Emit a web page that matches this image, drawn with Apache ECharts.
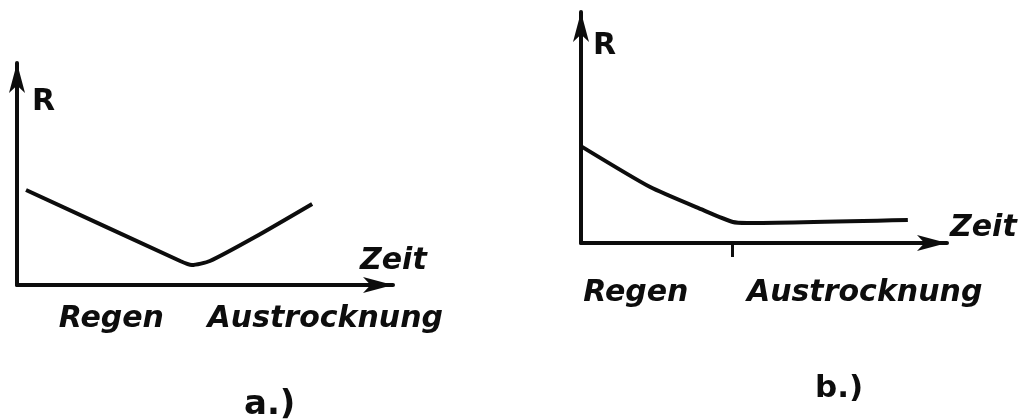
<!DOCTYPE html>
<html>
<head>
<meta charset="utf-8">
<script src="https://cdn.jsdelivr.net/npm/echarts@6/dist/echarts.min.js"></script>
<style>
    html, body { margin: 0; padding: 0; background: #fff; }
    #main { width: 1027px; height: 419px; }
</style>
</head>
<body>
<div id="main"></div>
<script>
// Kurve a: Widerstand R über Zeit (Regen -> Austrocknung)
var curveA = [[2.4, 42.8], [43.4, 10.8], [46.5, 9.0], [51.3, 10.8], [63.3, 21.6], [78.5, 36.5]];
// Kurve b
var curveB = [[0.3, 41.6], [18.9, 24.2], [33.3, 14.3], [41.5, 9.1], [45.4, 8.7], [89.3, 10.0]];
// Beschriftung unter der Zeitachse
var phaseNames = ['Regen', 'Austrocknung'];
var phasePosA = [25.1, 82.0];
var phasePosB = [15.0, 77.5];
var tickB = [41.3];
var panelNames = ['a.)', 'b.)'];

var FONT = 'DejaVu Sans';
var INK = '#0d0d0d';
var textStyle = { color: INK, fontFamily: FONT, fontStyle: 'italic', fontWeight: 'bold', fontSize: 30 };

function xAxis(grid, pos, ticks, margin, gap, padBottom) {
    return {
        type: 'value', gridIndex: grid, min: 0, max: 100,
        name: 'Zeit', nameLocation: 'end', nameGap: gap,
        nameTextStyle: Object.assign({}, textStyle, { verticalAlign: 'bottom', align: 'left', padding: [0, 0, padBottom, 0] }),
        axisLine: { show: true, symbol: ['none', 'arrow'], symbolSize: [12, 30], lineStyle: { color: INK, width: 4 } },
        axisTick: ticks.length ? { show: true, inside: false, length: 14, customValues: ticks, lineStyle: { color: INK, width: 3 } } : { show: false },
        axisLabel: Object.assign({}, textStyle, {
            show: true, customValues: pos, margin: margin,
            formatter: function (v) { return phaseNames[pos.indexOf(v)] || ''; }
        }),
        splitLine: { show: false }
    };
}
function yAxis(grid, gap, pad) {
    return {
        type: 'value', gridIndex: grid, min: 0, max: 100,
        name: 'R', nameLocation: 'end', nameGap: gap,
        nameTextStyle: Object.assign({}, textStyle, { verticalAlign: 'top', align: 'left', padding: [0, 0, 0, pad], fontStyle: 'normal' }),
        axisLine: { show: true, symbol: ['none', 'arrow'], symbolSize: [12, 30], lineStyle: { color: INK, width: 4 } },
        axisTick: { show: false },
        axisLabel: { show: false },
        splitLine: { show: false }
    };
}

var chart = echarts.init(document.getElementById('main'));
chart.setOption({
    backgroundColor: '#fff',
    animation: false,
    title: [
        { text: panelNames[0], left: 239, top: 383, textStyle: { color: INK, fontFamily: FONT, fontSize: 34, fontWeight: 'bold' } },
        { text: panelNames[1], left: 810, top: 368, textStyle: { color: INK, fontFamily: FONT, fontSize: 31, fontWeight: 'bold' } }
    ],
    grid: [
        { left: 17, top: 63, width: 376, height: 222 },
        { left: 581, top: 12, width: 366, height: 231 }
    ],
    xAxis: [xAxis(0, phasePosA, [], 19, -33, 9), xAxis(1, phasePosB, tickB, 35, 3, 0)],
    yAxis: [yAxis(0, -24, 15), yAxis(1, -19, 12)],
    series: [
        { type: 'line', xAxisIndex: 0, yAxisIndex: 0, data: curveA, showSymbol: false, smooth: 0.2, lineStyle: { color: INK, width: 4 } },
        { type: 'line', xAxisIndex: 1, yAxisIndex: 1, data: curveB, showSymbol: false, smooth: 0.2, lineStyle: { color: INK, width: 4 } }
    ]
});
</script>
</body>
</html>
